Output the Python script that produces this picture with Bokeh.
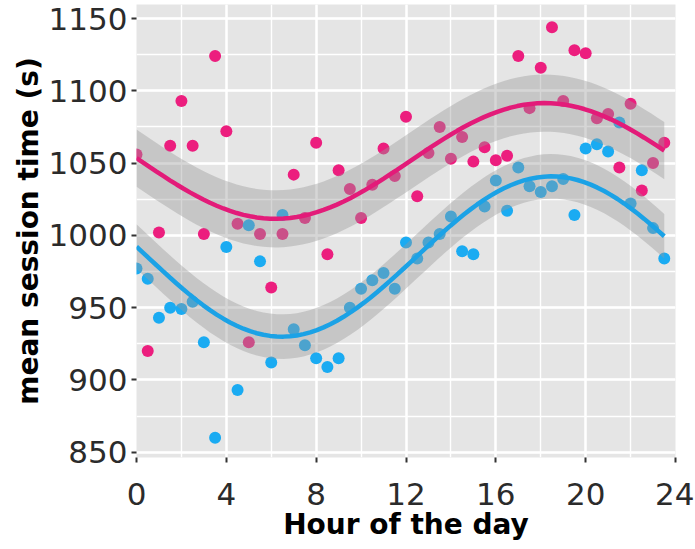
import numpy as np
from bokeh.plotting import figure
from bokeh.models import Range1d, SingleIntervalTicker
from bokeh.embed import file_html
from bokeh.resources import INLINE

# ---------------- data ----------------
hours = [0.0, 0.5, 1.0, 1.5, 2.0, 2.5, 3.0, 3.5, 4.0, 4.5, 5.0, 5.5,
         6.0, 6.5, 7.0, 7.5, 8.0, 8.5, 9.0, 9.5, 10.0, 10.5, 11.0, 11.5,
         12.0, 12.5, 13.0, 13.5, 14.0, 14.5, 15.0, 15.5, 16.0, 16.5, 17.0, 17.5,
         18.0, 18.5, 19.0, 19.5, 20.0, 20.5, 21.0, 21.5, 22.0, 22.5, 23.0, 23.5]

pink_values = [1056, 920, 1002, 1062, 1093, 1062, 1001, 1124, 1072, 1008, 926, 1001,
               964, 1001, 1042, 1012, 1064, 987, 1045, 1032, 1012, 1035, 1060, 1041,
               1082, 1027, 1057, 1075, 1053, 1068, 1051, 1061, 1052, 1055, 1124, 1088,
               1116, 1144, 1093, 1128, 1126, 1081, 1084, 1047, 1091, 1031, 1050, 1064]

blue_values = [977, 970, 943, 950, 949, 954, 926, 860, 992, 893, 1007, 982,
               912, 1014, 935, 924, 915, 909, 915, 950, 963, 969, 974, 963,
               995, 984, 995, 1001, 1013, 989, 987, 1020, 1038, 1017, 1047, 1034,
               1030, 1034, 1039, 1014, 1060, 1063, 1058, 1078, 1022, 1045, 1005, 984]

x_tick_interval = 4
y_tick_interval = 50
day_period = 24.0

PINK = "#EC1E7E"
PINK_LINE = "#E31B79"
BLUE = "#1AABF2"
BLUE_LINE = "#1BA2E6"
FONT = "DejaVu Sans"


# ------------- harmonic (24 h) regression smooth with 95% confidence band -------------
def t975(df):
    z = 1.959964
    return (z + (z**3 + z) / (4 * df) + (5 * z**5 + 16 * z**3 + 3 * z) / (96 * df**2)
            + (3 * z**7 + 19 * z**5 + 17 * z**3 - 15 * z) / (384 * df**3))


def harmonic_smooth(x, y, npts=80):
    x = np.asarray(x, float)
    y = np.asarray(y, float)

    def design(v):
        w = 2 * np.pi * np.asarray(v, float) / day_period
        return np.column_stack([np.ones_like(w), np.sin(w), np.cos(w)])

    X = design(x)
    beta, *_ = np.linalg.lstsq(X, y, rcond=None)
    res = y - X @ beta
    dof = len(x) - X.shape[1]
    sigma = np.sqrt(np.sum(res ** 2) / dof)
    XtX_inv = np.linalg.inv(X.T @ X)
    xs = np.linspace(x.min(), x.max(), npts)
    Xs = design(xs)
    fit = Xs @ beta
    se = sigma * np.sqrt(np.einsum("ij,jk,ik->i", Xs, XtX_inv, Xs))
    tq = t975(dof)
    return xs, fit, fit - tq * se, fit + tq * se


# ---------------- figure ----------------
# frame: page x 136..675, page y 4..457 ; 1150 at page y 18, 850 at 451.7
k = (451.7 - 18) / 300.0
y_top = 1150 + (18 - 4) / k
y_bot = 850 - (457 - 451.7) / k

p = figure(width=694, height=548, output_backend="svg", toolbar_location=None,
           x_range=Range1d(0, 24), y_range=Range1d(y_bot, y_top),
           min_border_left=136, min_border_right=19, min_border_top=4, min_border_bottom=91)

p.background_fill_color = "#E5E5E5"
p.border_fill_color = "white"
p.outline_line_color = None

p.xaxis.ticker = SingleIntervalTicker(interval=x_tick_interval, num_minor_ticks=2)
p.yaxis.ticker = SingleIntervalTicker(interval=y_tick_interval, num_minor_ticks=2)

for g in (p.xgrid, p.ygrid):
    g.grid_line_color = "white"
    g.grid_line_width = 2.4
    g.minor_grid_line_color = "white"
    g.minor_grid_line_width = 1.4

for ax in (p.xaxis, p.yaxis):
    ax.axis_line_color = None
    ax.major_tick_line_color = "#333333"
    ax.major_tick_line_width = 2
    ax.major_tick_out = 5
    ax.major_tick_in = 0
    ax.minor_tick_line_color = None
    ax.major_label_text_font = FONT
    ax.major_label_text_font_size = "31px"
    ax.major_label_text_color = "#2B2B2B"
    ax.axis_label_text_font = FONT
    ax.axis_label_text_font_style = "bold"
    ax.axis_label_text_font_size = "28px"
    ax.axis_label_text_color = "black"

p.xaxis.axis_label = "Hour of the day"
p.yaxis.axis_label = "mean session time (s)"
p.xaxis.major_label_standoff = 20
p.yaxis.major_label_standoff = 4
p.xaxis.axis_label_standoff = 0
p.yaxis.axis_label_standoff = 1

# points
p.scatter(hours, pink_values, size=12, fill_color=PINK, line_color=None)
p.scatter(hours, blue_values, size=12, fill_color=BLUE, line_color=None)

# smooths (ribbon + line per group)
for vals, col in ((blue_values, BLUE_LINE), (pink_values, PINK_LINE)):
    xs, fit, lo, hi = harmonic_smooth(hours, vals)
    p.varea(x=xs, y1=lo, y2=hi, fill_color="#999999", fill_alpha=0.4)
    p.line(xs, fit, line_color=col, line_width=4.5)

open("out.html", "w").write(file_html(p, INLINE))
